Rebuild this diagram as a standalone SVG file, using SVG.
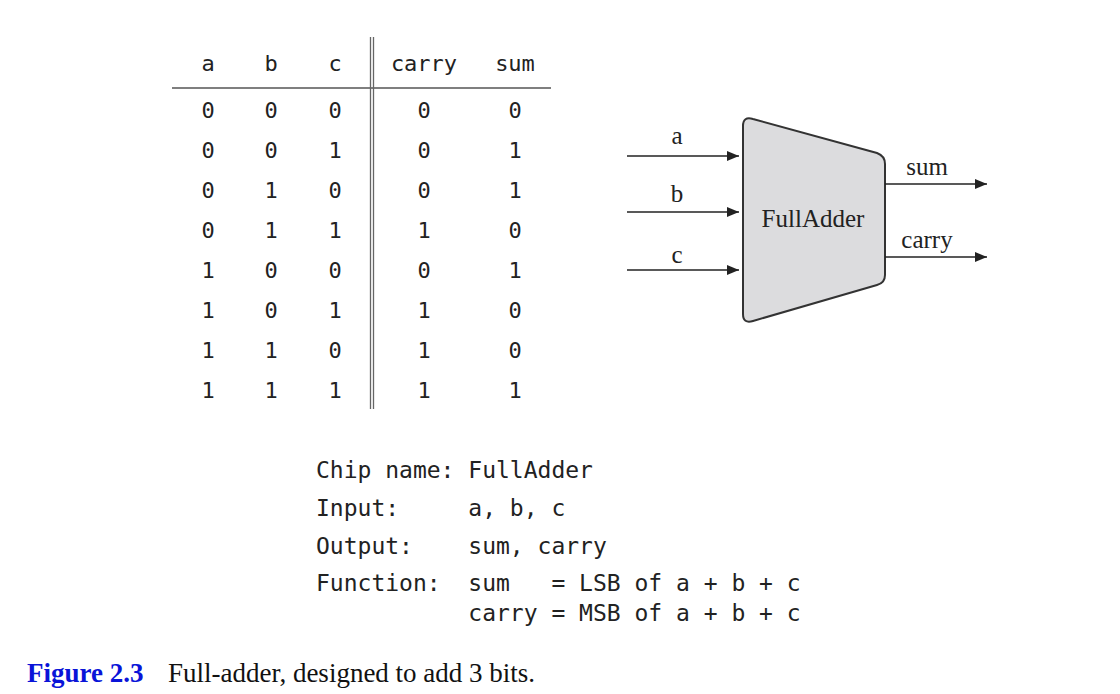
<svg xmlns="http://www.w3.org/2000/svg" width="1120" height="694" viewBox="0 0 1120 694">
<defs>
<style>
.mono{font-family:"DejaVu Sans Mono","Liberation Mono",monospace;fill:#222}
.tbl{font-size:22px;text-anchor:middle}
.spec{font-size:23px}
.serif{font-family:"Liberation Serif","Times New Roman",serif;fill:#222}
.wire{stroke:#222;stroke-width:1.6;fill:none;marker-end:url(#arr)}
</style>
<marker id="arr" viewBox="0 0 12 10" refX="12" refY="5" markerWidth="12" markerHeight="10" markerUnits="userSpaceOnUse" orient="auto">
<path d="M0,0 L12,5 L0,10 z" fill="#222"/>
</marker>
</defs>
<rect width="1120" height="694" fill="#fff"/>

<g id="truth-table">
<line x1="172" y1="88" x2="551" y2="88" stroke="#555" stroke-width="1.4"/>
<line x1="370.5" y1="37" x2="370.5" y2="409" stroke="#666" stroke-width="1.3"/>
<line x1="373.5" y1="37" x2="373.5" y2="409" stroke="#666" stroke-width="1.3"/>
<g class="mono tbl">
<text x="208" y="71">a</text><text x="271" y="71">b</text><text x="335" y="71">c</text><text x="424" y="71">carry</text><text x="515" y="71">sum</text>
<text x="208" y="118">0</text><text x="271" y="118">0</text><text x="335" y="118">0</text><text x="424" y="118">0</text><text x="515" y="118">0</text>
<text x="208" y="158">0</text><text x="271" y="158">0</text><text x="335" y="158">1</text><text x="424" y="158">0</text><text x="515" y="158">1</text>
<text x="208" y="198">0</text><text x="271" y="198">1</text><text x="335" y="198">0</text><text x="424" y="198">0</text><text x="515" y="198">1</text>
<text x="208" y="238">0</text><text x="271" y="238">1</text><text x="335" y="238">1</text><text x="424" y="238">1</text><text x="515" y="238">0</text>
<text x="208" y="278">1</text><text x="271" y="278">0</text><text x="335" y="278">0</text><text x="424" y="278">0</text><text x="515" y="278">1</text>
<text x="208" y="318">1</text><text x="271" y="318">0</text><text x="335" y="318">1</text><text x="424" y="318">1</text><text x="515" y="318">0</text>
<text x="208" y="358">1</text><text x="271" y="358">1</text><text x="335" y="358">0</text><text x="424" y="358">1</text><text x="515" y="358">0</text>
<text x="208" y="398">1</text><text x="271" y="398">1</text><text x="335" y="398">1</text><text x="424" y="398">1</text><text x="515" y="398">1</text>
</g>
</g>

<g id="FullAdder">
<path d="M743,126 Q743,116 753,119 L877,153 Q885,156 885,164 L885,275 Q885,283 877,285 L753,321 Q743,324 743,314 Z" fill="#dcdcde" stroke="#333" stroke-width="2"/>
<text class="serif" x="813" y="227" font-size="25" text-anchor="middle">FullAdder</text>
</g>

<g id="connectors">
<line class="wire" x1="627" y1="156" x2="739" y2="156"/>
<line class="wire" x1="627" y1="212" x2="739" y2="212"/>
<line class="wire" x1="627" y1="270" x2="739" y2="270"/>
<line class="wire" x1="885" y1="184" x2="987" y2="184"/>
<line class="wire" x1="885" y1="257" x2="987" y2="257"/>
<g class="serif" font-size="25" text-anchor="middle">
<text x="677" y="144">a</text>
<text x="677" y="202">b</text>
<text x="677" y="263">c</text>
<text x="927" y="175">sum</text>
<text x="927" y="248">carry</text>
</g>
</g>

<g id="spec" class="mono spec">
<text x="316" y="478" xml:space="preserve">Chip name: FullAdder</text>
<text x="316" y="516" xml:space="preserve">Input:     a, b, c</text>
<text x="316" y="554" xml:space="preserve">Output:    sum, carry</text>
<text x="316" y="591" xml:space="preserve">Function:  sum   = LSB of a + b + c</text>
<text x="316" y="621" xml:space="preserve">           carry = MSB of a + b + c</text>
</g>

<g id="caption" font-family="Liberation Serif, Times New Roman, serif" font-size="27">
<text x="27" y="682" font-weight="bold" fill="#0a14d8">Figure 2.3</text>
<text x="168" y="682" fill="#111">Full-adder, designed to add 3 bits.</text>
</g>
</svg>
